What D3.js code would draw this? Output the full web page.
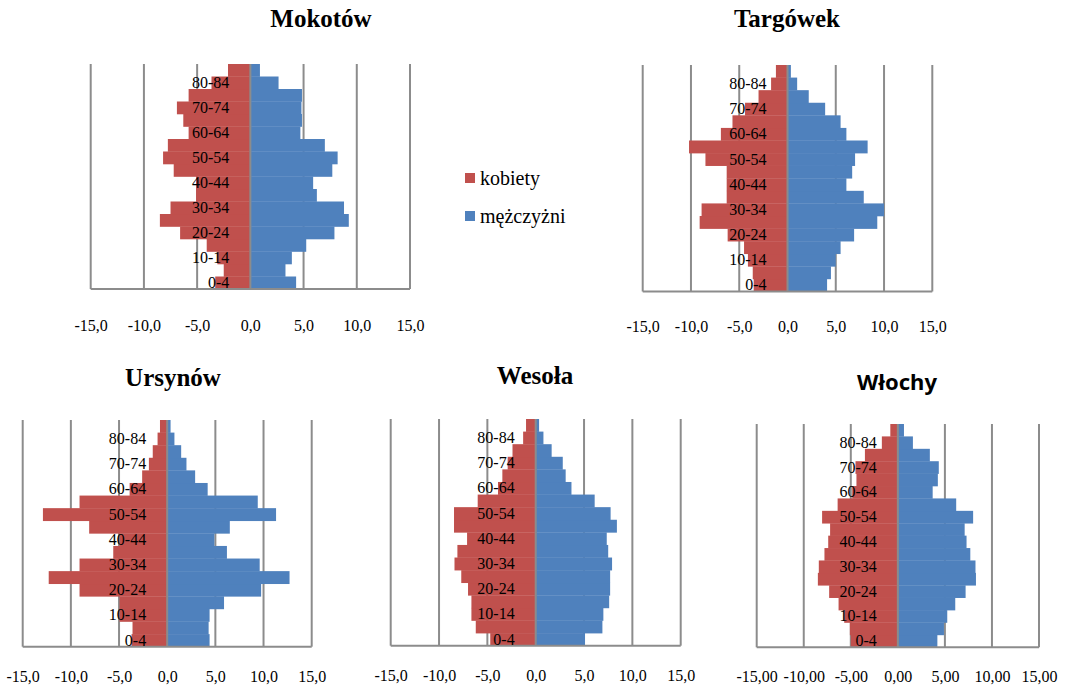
<!DOCTYPE html>
<html>
<head>
<meta charset="utf-8">
<script src="https://cdn.jsdelivr.net/npm/d3@7"></script>
<style>
  body { margin: 0; background: #fff; }
  svg { display: block; }
</style>
</head>
<body>
<svg id="chart" width="1066" height="689"></svg>
<script>
// age groups, bottom to top
var ageGroups = ["0-4", "5-9", "10-14", "15-19", "20-24", "25-29", "30-34", "35-39", "40-44",
    "45-49", "50-54", "55-59", "60-64", "65-69", "70-74", "75-79", "80-84", "85+"];
var ageLabels = ["0-4", "10-14", "20-24", "30-34", "40-44", "50-54", "60-64", "70-74", "80-84"];
var xTicks = [-15, -10, -5, 0, 5, 10, 15];

// % of population, women (kobiety) and men
var mokotowK = [3.3, 2.5, 3.1, 4.1, 6.6, 8.5, 7.5, 5.1, 5.1, 7.2, 8.2, 7.75, 5.8, 6.3, 6.9, 5.8, 3.65, 2.1];
var mokotowM = [4.3, 3.3, 3.9, 5.25, 7.9, 9.25, 8.8, 6.25, 5.9, 7.7, 8.2, 7.0, 4.7, 4.85, 4.8, 4.85, 2.65, 0.9];
var targowekK = [3.5, 3.6, 4.1, 4.5, 6.2, 9.1, 8.9, 6.3, 6.3, 6.3, 8.5, 10.2, 6.9, 5.7, 4.4, 3.0, 1.7, 1.2];
var targowekM = [4.1, 4.5, 5.0, 5.5, 6.9, 9.3, 10.0, 7.9, 6.1, 6.7, 7.0, 8.3, 6.1, 5.5, 3.9, 2.2, 1.0, 0.35];
var ursynowK = [3.7, 3.6, 4.95, 4.95, 9.1, 12.3, 9.1, 5.6, 4.95, 8.1, 12.9, 9.1, 3.9, 2.6, 1.9, 1.5, 1.0, 0.75];
var ursynowM = [4.4, 4.3, 4.4, 5.9, 9.75, 12.7, 9.6, 6.2, 4.9, 6.5, 11.3, 9.4, 4.2, 2.9, 2.0, 1.45, 0.75, 0.35];
var wesolaK = [4.7, 6.2, 6.65, 6.65, 7.0, 7.7, 8.4, 8.1, 7.1, 8.45, 8.45, 6.0, 3.9, 3.45, 2.9, 2.4, 1.3, 1.0];
var wesolaM = [5.1, 6.9, 7.0, 7.6, 7.7, 7.7, 7.9, 7.5, 7.35, 8.4, 7.75, 6.1, 3.7, 3.1, 2.8, 1.65, 0.8, 0.35];
var wlochyK = [5.0, 5.1, 5.7, 6.3, 7.3, 8.5, 8.4, 7.8, 7.4, 7.2, 8.05, 6.4, 4.85, 4.4, 4.5, 3.5, 1.7, 0.8];
var wlochyM = [4.2, 4.9, 5.25, 6.1, 7.2, 8.3, 8.25, 7.7, 7.3, 7.1, 8.0, 6.2, 3.7, 4.25, 4.35, 3.4, 1.6, 0.65];

var RED = "#C0504D", BLUE = "#4F81BD", GRID = "#8C8C8C";
var serif = "'Times New Roman', 'Liberation Serif', 'DejaVu Serif', serif";

var pl = d3.formatLocale({ decimal: ",", thousands: " ", grouping: [3], currency: ["", " zł"], minus: "-" });

var svg = d3.select("#chart");

//  One pyramid  ---
function pyramid(p) {
    var x = d3.scaleLinear().domain([-15, 15]).range([p.left, p.right]);
    var y = d3.scaleBand().domain(ageGroups).range([p.bottom, p.top]).padding(0);
    var g = svg.append("g");

    g.selectAll("line.grid")
        .data(xTicks)
        .enter().append("line")
        .attr("class", "grid")
        .attr("x1", function (d) { return x(d); })
        .attr("x2", function (d) { return x(d); })
        .attr("y1", p.top)
        .attr("y2", p.bottom)
        .attr("stroke", GRID)
        .attr("stroke-width", 2);

    g.selectAll("rect.k")
        .data(p.k)
        .enter().append("rect")
        .attr("class", "k")
        .attr("x", function (d) { return x(-d); })
        .attr("y", function (d, i) { return y(ageGroups[i]); })
        .attr("width", function (d) { return x(0) - x(-d); })
        .attr("height", y.bandwidth() + 0.3)
        .attr("fill", RED);

    g.selectAll("rect.m")
        .data(p.m)
        .enter().append("rect")
        .attr("class", "m")
        .attr("x", x(0))
        .attr("y", function (d, i) { return y(ageGroups[i]); })
        .attr("width", function (d) { return x(d) - x(0); })
        .attr("height", y.bandwidth() + 0.3)
        .attr("fill", BLUE);

    // category axis at zero
    g.append("line")
        .attr("x1", x(0)).attr("x2", x(0))
        .attr("y1", p.top).attr("y2", p.bottom)
        .attr("stroke", GRID).attr("stroke-width", 2);
    g.append("line")
        .attr("x1", x(-15)).attr("x2", x(15))
        .attr("y1", p.bottom).attr("y2", p.bottom)
        .attr("stroke", GRID).attr("stroke-width", 2);

    var yAxis = g.append("g")
        .attr("transform", "translate(" + x(0) + ",0)")
        .call(d3.axisLeft(y).tickValues(ageLabels).tickSize(0).tickPadding(21));
    yAxis.attr("font-family", serif).attr("font-size", 16);
    yAxis.select(".domain").remove();
    yAxis.selectAll("text").attr("fill", "#000");

    var xAxis = g.append("g")
        .attr("transform", "translate(0," + p.tickY + ")")
        .call(d3.axisBottom(x).tickValues(xTicks).tickSize(0).tickPadding(0)
            .tickFormat(pl.format(p.fmt)));
    xAxis.attr("font-family", serif).attr("font-size", 16);
    xAxis.select(".domain").remove();
    xAxis.selectAll("text")
        .attr("dy", "0.35em")
        .attr("fill", "#000");

    svg.append("text")
        .attr("x", p.titleX)
        .attr("y", p.titleY)
        .attr("text-anchor", "middle")
        .attr("font-family", p.titleFont || serif)
        .attr("font-weight", "bold")
        .attr("font-size", p.titleSize || 25)
        .text(p.title);
}

pyramid({ title: "Mokotów", k: mokotowK, m: mokotowM, left: 90.7, right: 410, top: 64, bottom: 289,
    tickY: 325, fmt: ".1f", titleX: 321, titleY: 27 });
pyramid({ title: "Targówek", k: targowekK, m: targowekM, left: 642.7, right: 932.3, top: 65, bottom: 291.5,
    tickY: 326, fmt: ".1f", titleX: 787, titleY: 27 });
pyramid({ title: "Ursynów", k: ursynowK, m: ursynowM, left: 22.7, right: 311.7, top: 420, bottom: 646.7,
    tickY: 676, fmt: ".1f", titleX: 173, titleY: 386 });
pyramid({ title: "Wesoła", k: wesolaK, m: wesolaM, left: 390.7, right: 680.7, top: 419, bottom: 645.7,
    tickY: 675, fmt: ".1f", titleX: 535, titleY: 384 });
pyramid({ title: "Włochy", k: wlochyK, m: wlochyM, left: 756.7, right: 1039, top: 424, bottom: 647.3,
    tickY: 676, fmt: ".2f", titleX: 897, titleY: 390, titleFont: "'Noto Sans', 'Open Sans', sans-serif", titleSize: 22 });

//  Legend  ---
var legend = svg.append("g");
var legendItems = [{ name: "kobiety", color: RED, y: 178 }, { name: "mężczyżni", color: BLUE, y: 216 }];
legend.selectAll("rect")
    .data(legendItems)
    .enter().append("rect")
    .attr("x", 465)
    .attr("y", function (d) { return d.y - 5; })
    .attr("width", 10)
    .attr("height", 10)
    .attr("fill", function (d) { return d.color; });
legend.selectAll("text")
    .data(legendItems)
    .enter().append("text")
    .attr("x", 480)
    .attr("y", function (d) { return d.y; })
    .attr("dy", "0.35em")
    .attr("font-family", serif)
    .attr("font-size", 20)
    .text(function (d) { return d.name; });
</script>
</body>
</html>
